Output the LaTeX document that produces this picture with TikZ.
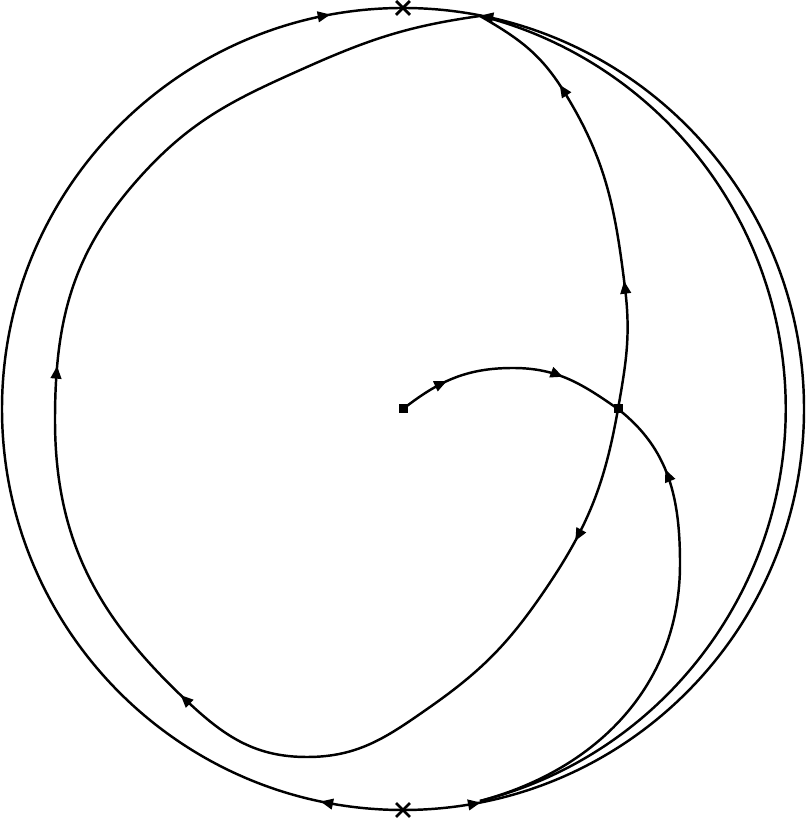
\documentclass[tikz,border=0pt]{standalone}
\usepackage{tikz}
\usetikzlibrary{arrows.meta,decorations.markings,shapes.misc}

\begin{document}
\begin{tikzpicture}[line width=0.7pt,
        arrowat/.style={postaction={decorate,decoration={markings,mark=at position #1 with {\arrow{Triangle[length=3.6pt,width=3pt]}}}}},
        arrowrev/.style={postaction={decorate,decoration={markings,mark=at position #1 with {\arrowreversed{Triangle[length=3.6pt,width=3pt]}}}}},
        fixpt/.style={fill,inner sep=0pt,minimum size=0.09cm},
        infpt/.style={cross out,draw,inner sep=0pt,minimum size=0.11cm,line width=0.8pt}]
        \useasboundingbox (-4.03,-4.09) rectangle (4.04,4.09);
        % equilibria
        \node[fixpt](N) at (0,0) {};
        \node[fixpt](S) at (2.15,0) {};
        \node[infpt](T) at (0,4.01) {};
        \node[infpt](B) at (0,-4.01) {};
        \coordinate (P) at (0.77,3.93);
        \coordinate (Q) at (0.77,-3.92);
        % boundary circle
        \draw[arrowat=0.066,arrowat=0.942](B.center) arc[start angle=270,end angle=90,radius=4.01];
        \draw[arrowat=0.062,arrowat=0.938](B.center) arc[start angle=-90,end angle=90,radius=4.01];
        \draw(Q) arc[start angle=-75.8,end angle=75.9,radius=4.05];
        % stable manifold of S
        \draw[arrowat=0.07,arrowat=0.23,arrowrev=0.42](N.center) to[out=38,in=180] (1.10,0.41)
            to[out=0,in=145] (S.center) to[out=-38,in=90] (2.77,-1.55) to[out=-90,in=15] (Q);
        % unstable manifold of S
        \draw[arrowrev=0.052,arrowrev=0.154,arrowat=0.285,arrowat=0.531,arrowat=0.71](P)
            to[out=-30,in=122] (1.60,3.19) to[out=-58,in=97] (2.22,1.21)
            to[out=-83,in=80] (S.center) to[out=-100,in=56] (1.44,-1.78)
            to[out=-124,in=35] (0.27,-2.98) to[out=-145,in=0] (-0.96,-3.48)
            to[out=180,in=-43] (-2.14,-2.94) to[out=137,in=-90] (-3.48,-0.11)
            to[out=90,in=-132] (-2.63,2.32) to[out=48,in=204] (-0.96,3.42)
            to[out=24,in=188] (P);
    \end{tikzpicture}
\end{document}
